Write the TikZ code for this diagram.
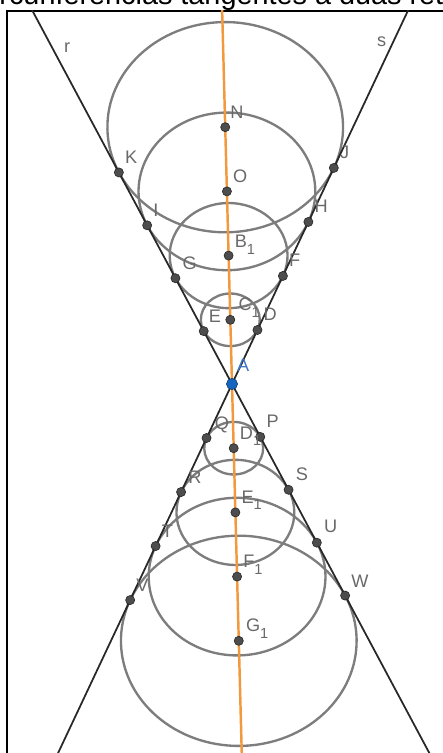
\documentclass[tikz,border=0pt]{standalone}
\usepackage{fontspec}
\setmainfont{Liberation Sans}
\usepackage{tikz}
\usepackage{xcolor}
\usetikzlibrary{positioning}
\definecolor{circgray}{RGB}{125,125,125}
\definecolor{linedark}{RGB}{40,40,40}
\definecolor{bisorange}{RGB}{242,153,61}
\definecolor{ptgray}{RGB}{77,77,77}
\definecolor{ptblue}{RGB}{21,101,192}
\definecolor{lblgray}{RGB}{105,105,105}
\definecolor{lblblue}{RGB}{60,120,200}
\newcommand{\lblsub}[1]{\raisebox{-5.5pt}{\fontsize{12.5}{13}\selectfont #1}}
\tikzset{
  pt/.style={circle, draw=black!85, fill=ptgray, line width=0.5pt,
             minimum size=7.8pt, inner sep=0pt},
  ptA/.style={pt, fill=ptblue, draw=ptblue!60!black, minimum size=9.5pt},
  circ/.style={draw=circgray, line width=2pt},
  tline/.style={draw=linedark, line width=1.5pt},
  bis/.style={draw=bisorange, line width=2.1pt},
  frame/.style={draw=black, line width=1.5pt},
  lbl/.style={anchor=base west, inner sep=0pt, text=lblgray,
              font=\fontsize{15.5}{17}\selectfont},
  title/.style={anchor=base, inner sep=0pt, font=\fontsize{24.6}{28}\selectfont},
}

\begin{document}
\begin{tikzpicture}[x=0.03cm, y=0.03cm]
  \useasboundingbox (0,0) rectangle (442,753);
  \node[title] (ttl) at (223,748) {Circunferências tangentes a duas retas};
  \draw[frame] (7,-5) -- (7,742) -- (450,742);

  \begin{scope}
    \clip (7,-5) rectangle (450,742);
    \begin{scope}[shift={(232,369)}, yscale=0.892, rotate=1.35]
      % retas r, s e bissetriz
      \coordinate (rtop) at (114.15:520);
      \coordinate (rbot) at (294.15:520);
      \coordinate (stop) at (65.85:520);
      \coordinate (sbot) at (245.85:520);
      \coordinate (btop) at (0,520);
      \coordinate (bbot) at (0,-520);
      \coordinate (A) at (0,0);
      % centros acima de A
      \coordinate (C1) at (0,72);
      \coordinate (B1) at (0,144);
      \coordinate (O) at (0,216);
      \coordinate (N) at (0,288);
      % centros abaixo de A
      \coordinate (D1) at (0,-72);
      \coordinate (E1) at (0,-144);
      \coordinate (F1) at (0,-216);
      \coordinate (G1) at (0,-288);
      % pontos de tangencia
      \coordinate (E) at (114.15:65.7);
      \coordinate (D) at (65.85:65.7);
      \coordinate (G) at (114.15:131.4);
      \coordinate (F) at (65.85:131.4);
      \coordinate (I) at (114.15:197.1);
      \coordinate (H) at (65.85:197.1);
      \coordinate (K) at (114.15:262.8);
      \coordinate (J) at (65.85:262.8);
      \coordinate (Q) at (245.85:65.7);
      \coordinate (P) at (294.15:65.7);
      \coordinate (R) at (245.85:131.4);
      \coordinate (S) at (294.15:131.4);
      \coordinate (T) at (245.85:197.1);
      \coordinate (U) at (294.15:197.1);
      \coordinate (V) at (245.85:262.8);
      \coordinate (W) at (294.15:262.8);

      \draw[circ] (C1) circle[radius=29.46];
      \draw[circ] (B1) circle[radius=58.92];
      \draw[circ] (O) circle[radius=88.38];
      \draw[circ] (N) circle[radius=117.84];
      \draw[circ] (D1) circle[radius=29.46];
      \draw[circ] (E1) circle[radius=58.92];
      \draw[circ] (F1) circle[radius=88.38];
      \draw[circ] (G1) circle[radius=117.84];

      \draw[bis] (btop) -- (bbot);
      \draw[tline] (rtop) -- (rbot);
      \draw[tline] (stop) -- (sbot);
    \end{scope}
  \end{scope}

  % pontos
  \node[pt] (pC1) at (C1) {};
  \node[pt] (pB1) at (B1) {};
  \node[pt] (pO) at (O) {};
  \node[pt] (pN) at (N) {};
  \node[pt] (pD1) at (D1) {};
  \node[pt] (pE1) at (E1) {};
  \node[pt] (pF1) at (F1) {};
  \node[pt] (pG1) at (G1) {};
  \node[pt] (pE) at (E) {};
  \node[pt] (pD) at (D) {};
  \node[pt] (pG) at (G) {};
  \node[pt] (pF) at (F) {};
  \node[pt] (pI) at (I) {};
  \node[pt] (pH) at (H) {};
  \node[pt] (pK) at (K) {};
  \node[pt] (pJ) at (J) {};
  \node[pt] (pQ) at (Q) {};
  \node[pt] (pP) at (P) {};
  \node[pt] (pR) at (R) {};
  \node[pt] (pS) at (S) {};
  \node[pt] (pT) at (T) {};
  \node[pt] (pU) at (U) {};
  \node[pt] (pV) at (V) {};
  \node[pt] (pW) at (W) {};
  \node[ptA] (pA) at (A) {};

  % rotulos
  \node[lbl] (lr) at (64,700) {r};
  \node[lbl] (ls) at (377,706) {s};
  \node[lbl, text=lblblue] (lA) at ([shift={(5,12)}]pA) {A};
  \node[lbl] (lC1) at ([shift={(8,9)}]pC1) {C\lblsub{1}};
  \node[lbl] (lB1) at ([shift={(6,8)}]pB1) {B\lblsub{1}};
  \node[lbl] (lO) at ([shift={(6,9)}]pO) {O};
  \node[lbl] (lN) at ([shift={(5,9)}]pN) {N};
  \node[lbl] (lD1) at ([shift={(6,9)}]pD1) {D\lblsub{1}};
  \node[lbl] (lE1) at ([shift={(6,9)}]pE1) {E\lblsub{1}};
  \node[lbl] (lF1) at ([shift={(6,9)}]pF1) {F\lblsub{1}};
  \node[lbl] (lG1) at ([shift={(7,9)}]pG1) {G\lblsub{1}};
  \node[lbl] (lE) at ([shift={(5,9)}]pE) {E};
  \node[lbl] (lD) at ([shift={(6,9)}]pD) {D};
  \node[lbl] (lG) at ([shift={(7,9)}]pG) {G};
  \node[lbl] (lF) at ([shift={(6,9)}]pF) {F};
  \node[lbl] (lI) at ([shift={(6,9)}]pI) {I};
  \node[lbl] (lH) at ([shift={(6,9)}]pH) {H};
  \node[lbl] (lK) at ([shift={(6,9)}]pK) {K};
  \node[lbl] (lJ) at ([shift={(6,9)}]pJ) {J};
  \node[lbl] (lQ) at ([shift={(8,9)}]pQ) {Q};
  \node[lbl] (lP) at ([shift={(6,9)}]pP) {P};
  \node[lbl] (lR) at ([shift={(7,9)}]pR) {R};
  \node[lbl] (lS) at ([shift={(7,9)}]pS) {S};
  \node[lbl] (lT) at ([shift={(6,9)}]pT) {T};
  \node[lbl] (lU) at ([shift={(7,10)}]pU) {U};
  \node[lbl] (lV) at ([shift={(6,9)}]pV) {V};
  \node[lbl] (lW) at ([shift={(6,8)}]pW) {W};
\end{tikzpicture}
\end{document}
